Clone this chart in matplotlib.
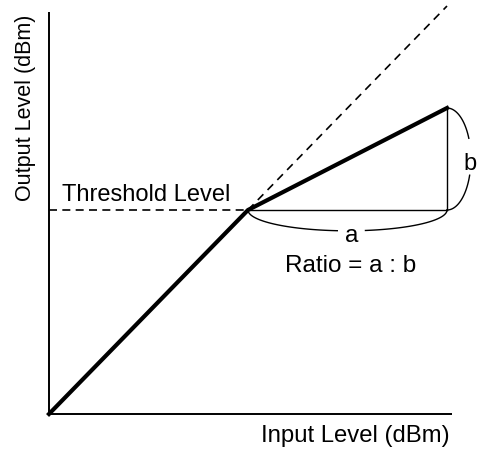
import matplotlib
matplotlib.use("Agg")
from matplotlib import pyplot as plt
import numpy as np

plt.rcParams["font.family"] = ["Liberation Sans", "DejaVu Sans"]

# transfer curve of the compressor (input dBm -> output dBm)
input_level = [0, 50, 100]
output_level = [0, 50, 75]
threshold = 50
unity_in = [50, 100]
unity_out = [50, 100]
axis_x_max = 101.3
axis_y_max = 98.5


def brace(p0, p1, bulge, gap, vertical=False):
    # half ellipse between p0 and p1, split in two around the label gap
    t = np.linspace(0, np.pi, 200)
    if vertical:
        c = (p0[1] + p1[1]) / 2
        r = abs(p0[1] - p1[1]) / 2
        y = c + r * np.cos(t)
        x = p0[0] + bulge * np.sin(t)
        pos = y
    else:
        c = (p0[0] + p1[0]) / 2
        r = abs(p0[0] - p1[0]) / 2
        x = c - r * np.cos(t)
        y = p0[1] - bulge * np.sin(t)
        pos = x
    lo = pos < gap[0]
    hi = pos > gap[1]
    return (x[lo], y[lo]), (x[hi], y[hi])


fig = plt.figure(figsize=(4.78, 4.52), dpi=100)
ax = fig.add_axes([0, 0, 1, 1])
ax.set_xlim(-12.31, 107.79)
ax.set_ylim(-9.07, 101.72)
ax.axis("off")

# axes
ax.plot([0, axis_x_max], [0, 0], color="k", lw=1.4, solid_capstyle="butt")
ax.plot([0, 0], [0, axis_y_max], color="k", lw=1.4, solid_capstyle="butt")

# threshold and unity-gain guide lines
ax.plot([0, threshold], [threshold, threshold], color="k", lw=1.2, dashes=(4.8, 3.2))
ax.plot(unity_in, unity_out, color="k", lw=1.2, dashes=(4.8, 3.6))

# ratio triangle
ax.plot([input_level[1], input_level[2]], [output_level[1], output_level[1]], color="k", lw=1.0)
ax.plot([input_level[2], input_level[2]], [output_level[1], output_level[2]], color="k", lw=1.0)

# transfer curve
ax.plot(input_level, output_level, color="k", lw=3.0, solid_joinstyle="miter")

# braces
for seg in brace((input_level[1], output_level[1]), (input_level[2], output_level[1]), 5.1, (72.6, 79.4)):
    ax.plot(seg[0], seg[1], color="k", lw=1.0)
for seg in brace((input_level[2], output_level[2]), (input_level[2], output_level[1]), 6.0, (58.6, 67.4), vertical=True):
    ax.plot(seg[0], seg[1], color="k", lw=1.0)

ax.text(3.3, 52.5, "Threshold Level", fontsize=17, ha="left", va="baseline")
ax.text(76.1, 42.4, "a", fontsize=17.5, ha="center", va="baseline")
ax.text(75.9, 35.0, "Ratio = a : b", fontsize=17.5, ha="center", va="baseline")
ax.text(104.2, 60.0, "b", fontsize=17, ha="left", va="baseline")
ax.text(76.9, -6.6, "Input Level (dBm)", fontsize=17.2, ha="center", va="baseline")
ax.text(-4.6, 75.4, "Output Level (dBm)", fontsize=15.5, ha="center", va="baseline",
        rotation=90, rotation_mode="anchor")

fig.savefig("out.png", dpi=100)
